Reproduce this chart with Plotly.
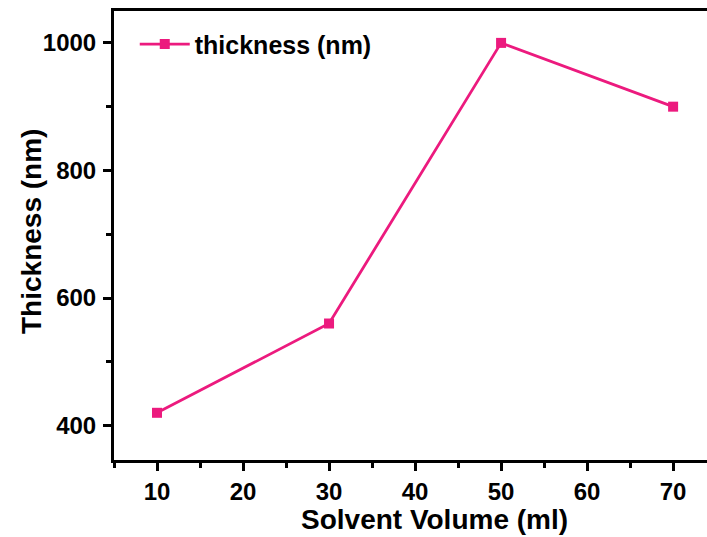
import plotly.graph_objects as go

solvent_volume = [10, 30, 50, 70]
thickness = [420, 560, 1000, 900]
series_name = "thickness (nm)"
x_ticks = [10, 20, 30, 40, 50, 60, 70]
y_ticks = [400, 600, 800, 1000]
x_title = "Solvent Volume (ml)"
y_title = "Thickness (nm)"

pink = "#EC1A7E"
font_family = "Liberation Sans, Arial, sans-serif"

fig = go.Figure()
fig.add_trace(go.Scatter(
    x=solvent_volume, y=thickness, mode="lines+markers", name=series_name,
    line=dict(color=pink, width=2.8),
    marker=dict(symbol="square", size=10, color=pink),
))

fig.update_layout(
    width=707, height=537,
    margin=dict(l=114, r=0, t=11, b=77, autoexpand=False),
    paper_bgcolor="white", plot_bgcolor="white",
    font=dict(family=font_family, color="black"),
    showlegend=True,
    legend=dict(x=0.035, y=0.977, xanchor="left", yanchor="top",
                itemwidth=50,
                bgcolor="rgba(0,0,0,0)",
                font=dict(size=25, family=font_family, color="black", weight="bold")),
)
fig.add_annotation(
    text=x_title, xref="paper", yref="paper", x=0.5405, y=-0.1336,
    xanchor="center", yanchor="middle", showarrow=False,
    font=dict(size=28, family=font_family, color="black", weight="bold"),
)
fig.add_annotation(
    text=y_title, xref="paper", yref="paper", x=-0.140, y=0.51,
    xanchor="center", yanchor="middle", showarrow=False, textangle=-90,
    font=dict(size=28, family=font_family, color="black", weight="bold"),
)
fig.update_xaxes(
    automargin=False,
    range=[5, 73.94], tickvals=x_ticks, ticktext=[str(v) for v in x_ticks],
    showline=True, linecolor="black", linewidth=3, mirror=True,
    ticks="outside", ticklen=8, tickwidth=2.8, tickcolor="black",
    minor=dict(dtick=5, tick0=5, ticks="outside", ticklen=5, tickwidth=2.8, tickcolor="black"),
    showgrid=False, zeroline=False,
    tickfont=dict(size=24, family=font_family, weight="bold"),
)
fig.update_yaxes(
    automargin=False,
    range=[346, 1050], tickvals=y_ticks, ticktext=[str(v) for v in y_ticks],
    showline=True, linecolor="black", linewidth=3, mirror=False,
    ticks="outside", ticklen=8, tickwidth=2.8, tickcolor="black",
    ticklabelstandoff=2,
    minor=dict(dtick=100, tick0=300, ticks="outside", ticklen=5, tickwidth=2.8, tickcolor="black"),
    showgrid=False, zeroline=False,
    tickfont=dict(size=24, family=font_family, weight="bold"),
)

fig.write_html("out.html", config={"displayModeBar": False},
               post_script="document.body.style.margin='0';")
